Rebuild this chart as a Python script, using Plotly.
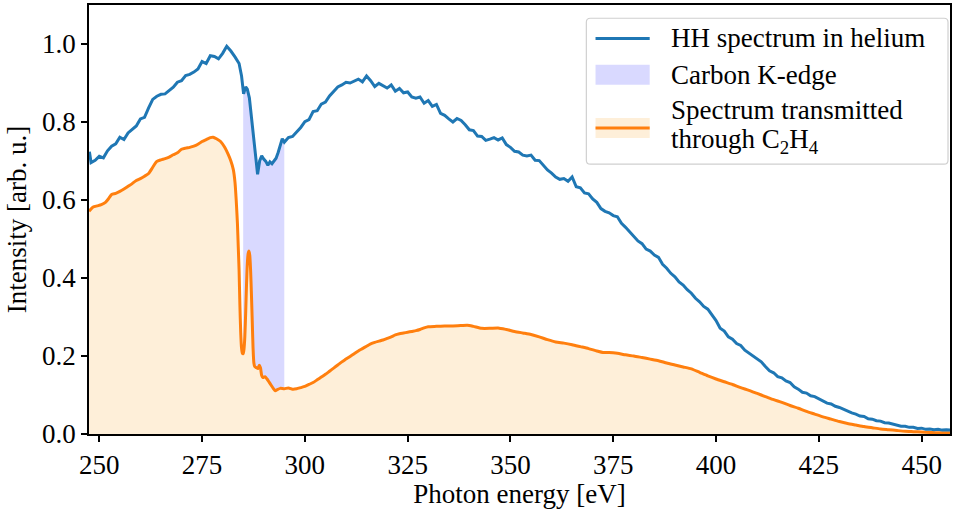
import numpy as np
import plotly.graph_objects as go

# HH spectrum recorded in helium (photon energy in eV, normalised intensity)
energy_he = [
    247.6, 248, 249, 250, 251, 252, 253, 254, 255, 256, 257, 258, 259, 260, 261, 262,
    263, 264, 265, 266, 267, 268, 269, 270, 271, 272, 273, 274, 275, 276, 277, 278,
    279, 280, 281, 282, 283, 284, 284.6, 285.1, 285.6, 286.0, 286.5, 287.0, 287.5,
    288.0, 288.5, 289.0, 289.5, 290.0, 290.5, 291.0, 291.5, 292.0, 292.5, 293.0,
    293.5, 294.0, 294.5, 295, 296, 297, 298, 299, 300, 301, 302, 303, 304, 305, 306,
    307, 308, 309, 310, 311, 312, 313, 314, 315, 316, 317, 318, 319, 320, 321, 322,
    323, 324, 325, 326, 327, 328, 329, 330, 331, 332, 333, 334, 335, 336, 337, 338,
    339, 340, 341, 342, 343, 344, 345, 346, 347, 348, 349, 350, 351, 352, 353, 354,
    355, 356, 357, 358, 359, 360, 361, 362, 363, 364, 365, 366, 367, 368, 369, 370,
    371, 372, 373, 374, 375, 376, 377, 378, 379, 380, 381, 382, 383, 384, 385, 386,
    387, 388, 389, 390, 391, 392, 393, 394, 395, 396, 397, 398, 399, 400, 401, 402,
    403, 404, 405, 406, 407, 408, 409, 410, 411, 412, 413, 414, 415, 416, 417, 418,
    419, 420, 421, 422, 423, 424, 425, 426, 427, 428, 429, 430, 431, 432, 433, 434,
    435, 436, 437, 438, 439, 440, 441, 442, 443, 444, 445, 446, 447, 448, 449, 450,
    451, 452, 453, 454, 455, 456, 457,
]
intensity_he = [
    0.724, 0.696, 0.702, 0.712, 0.708, 0.726, 0.738, 0.744, 0.761, 0.755, 0.772, 0.781, 0.790, 0.808, 0.812, 0.836,
    0.858, 0.866, 0.871, 0.872, 0.880, 0.889, 0.902, 0.906, 0.919, 0.922, 0.928, 0.936, 0.955, 0.950, 0.970, 0.968,
    0.962, 0.976, 0.994, 0.982, 0.967, 0.950, 0.918, 0.872, 0.890, 0.884, 0.862, 0.815, 0.772,
    0.712, 0.666, 0.700, 0.713, 0.705, 0.699, 0.689, 0.698, 0.693, 0.699, 0.707,
    0.722, 0.737, 0.757, 0.748, 0.760, 0.763, 0.774, 0.786, 0.801, 0.806, 0.827, 0.829, 0.846, 0.851, 0.867,
    0.878, 0.890, 0.895, 0.902, 0.900, 0.906, 0.910, 0.903, 0.918, 0.906, 0.891, 0.899, 0.894, 0.887, 0.895, 0.879,
    0.886, 0.875, 0.877, 0.864, 0.861, 0.864, 0.848, 0.855, 0.840, 0.845, 0.822, 0.817, 0.808, 0.800, 0.809, 0.804,
    0.793, 0.780, 0.778, 0.764, 0.763, 0.753, 0.756, 0.760, 0.754, 0.759, 0.742, 0.735, 0.725, 0.723, 0.715, 0.713,
    0.715, 0.702, 0.701, 0.690, 0.677, 0.669, 0.659, 0.653, 0.655, 0.648, 0.659, 0.634, 0.631, 0.618, 0.616, 0.603,
    0.594, 0.578, 0.571, 0.567, 0.560, 0.557, 0.540, 0.530, 0.518, 0.507, 0.495, 0.488, 0.474, 0.469, 0.459, 0.453,
    0.435, 0.425, 0.412, 0.403, 0.390, 0.382, 0.370, 0.361, 0.348, 0.339, 0.327, 0.320, 0.305, 0.291, 0.271, 0.264,
    0.249, 0.243, 0.232, 0.227, 0.215, 0.208, 0.199, 0.193, 0.185, 0.173, 0.162, 0.157, 0.147, 0.144, 0.136, 0.132,
    0.121, 0.115, 0.107, 0.105, 0.098, 0.096, 0.091, 0.086, 0.079, 0.077, 0.071, 0.068, 0.063, 0.060, 0.054, 0.051,
    0.046, 0.045, 0.039, 0.038, 0.034, 0.033, 0.029, 0.028, 0.025, 0.024, 0.020, 0.020, 0.017, 0.017, 0.014, 0.015,
    0.012, 0.013, 0.011, 0.012, 0.010, 0.011, 0.010,
]

# Spectrum transmitted through the C2H4 cell
energy_c2h4 = [
    247.5, 248.5, 249.5, 250.5, 251.5, 252.3, 253.0, 254.0, 255.0, 256.0, 257.0, 258.0, 259.0, 260.0,
    261.0, 262.0, 263.0, 264.0, 265.0, 266.0, 267.0, 268.0, 269.0, 270.0, 271.0, 272.0, 273.0, 274.0,
    275.0, 276.0, 277.0, 277.7, 278.5, 279.5, 280.5, 281.3, 282.0, 282.6, 283.0, 283.3, 283.6, 283.8,
    284.0, 284.2, 284.4, 284.6, 284.8, 285.0, 285.2, 285.4, 285.6, 285.8, 286.0, 286.2, 286.4, 286.6,
    286.8, 287.0, 287.2, 287.4, 287.6, 287.8, 288.2, 288.6, 288.9, 289.2, 289.5, 289.8, 290.3, 290.8,
    291.3, 291.8, 292.3, 292.8, 293.3, 294.0, 295.0, 296.0, 297.0, 298.0, 299.0, 300.0, 301.0, 302.0,
    303.0, 304.0, 305.0, 306.0, 307.0, 308.0, 309.0, 310.0, 311.0, 312.0, 313.0, 314.0, 315.0, 316.0,
    317.0, 318.0, 319.0, 320.0, 321.0, 322.0, 323.0, 324.0, 325.0, 326.0, 327.0, 328.0, 329.0, 330.0,
    332.0, 334.0, 336.0, 338.0, 339.5, 341.0, 343.0, 345.0, 347.0, 349.0, 351.0, 353.0, 355.0, 357.0,
    359.0, 361.0, 363.0, 365.0, 367.0, 369.0, 371.0, 372.5, 374.0, 376.0, 378.0, 380.0, 382.0, 384.0,
    386.0, 388.0, 390.0, 392.0, 394.0, 396.0, 398.0, 400.0, 402.0, 404.0, 406.0, 408.0, 410.0, 412.0,
    414.0, 416.0, 418.0, 420.0, 422.0, 424.0, 426.0, 428.0, 430.0, 432.0, 434.0, 436.0, 438.0, 440.0,
    442.0, 444.0, 446.0, 448.0, 450.0, 452.0, 454.0, 457.0,
]
intensity_c2h4 = [
    0.571, 0.582, 0.585, 0.588, 0.594, 0.604, 0.614, 0.617, 0.622, 0.628, 0.635, 0.642, 0.650, 0.655,
    0.661, 0.668, 0.684, 0.699, 0.703, 0.706, 0.710, 0.716, 0.721, 0.730, 0.733, 0.735, 0.738, 0.743,
    0.750, 0.755, 0.760, 0.761, 0.757, 0.750, 0.735, 0.718, 0.700, 0.678, 0.646, 0.600, 0.540, 0.480,
    0.420, 0.330, 0.260, 0.220, 0.207, 0.206, 0.218, 0.250, 0.310, 0.380, 0.435, 0.462, 0.469, 0.458,
    0.420, 0.360, 0.290, 0.220, 0.182, 0.173, 0.170, 0.168, 0.176, 0.170, 0.150, 0.145, 0.147, 0.141,
    0.133, 0.125, 0.117, 0.111, 0.114, 0.117, 0.116, 0.118, 0.115, 0.116, 0.119, 0.122, 0.127, 0.132,
    0.139, 0.146, 0.153, 0.161, 0.169, 0.177, 0.185, 0.192, 0.199, 0.206, 0.213, 0.219, 0.225, 0.231,
    0.235, 0.238, 0.241, 0.245, 0.249, 0.254, 0.257, 0.259, 0.261, 0.263, 0.265, 0.268, 0.272, 0.275,
    0.276, 0.277, 0.277, 0.278, 0.279, 0.276, 0.271, 0.271, 0.272, 0.268, 0.263, 0.259, 0.255, 0.249,
    0.242, 0.236, 0.233, 0.229, 0.224, 0.219, 0.213, 0.209, 0.209, 0.207, 0.203, 0.200, 0.196, 0.192,
    0.188, 0.182, 0.177, 0.172, 0.167, 0.158, 0.149, 0.141, 0.134, 0.127, 0.119, 0.112, 0.104, 0.096,
    0.088, 0.081, 0.073, 0.066, 0.058, 0.051, 0.044, 0.038, 0.032, 0.027, 0.023, 0.019, 0.016, 0.013,
    0.011, 0.009, 0.007, 0.006, 0.005, 0.004, 0.003, 0.003,
]

# Energy window of the carbon K-edge absorption
kedge_window = [285.0, 295.0]

# Legend entries, top to bottom
legend_labels = [
    "HH spectrum in helium",
    "Carbon K-edge",
    "Spectrum transmitted",
    "through C<sub>2</sub>H<sub>4</sub>",
]

x_ticks = [250, 275, 300, 325, 350, 375, 400, 425, 450]
y_ticks = [0.0, 0.2, 0.4, 0.6, 0.8, 1.0]
x_range = [247.5, 456.9]
y_range = [0.0, 1.1]

FONT = "Liberation Serif, DejaVu Serif, serif"
FS = 27
BLUE = "#1f77b4"
ORANGE = "#ff7f0e"
LAVENDER = "rgba(0,0,255,0.15)"
CREAM = "rgb(254,239,217)"

# figure geometry in pixels
W, H = 954, 509
ML, MR, MT, MB = 89, 2, 5, 74
PW, PH = W - ML - MR, H - MT - MB


def px(x):
    return (x - ML) / PW


def py(y):
    return (MT + PH - y) / PH


e_he = np.asarray(energy_he)
i_he = np.asarray(intensity_he)
e_tr = np.asarray(energy_c2h4)
i_tr = np.asarray(intensity_c2h4)


def window(e, i, lo, hi):
    """Samples inside [lo, hi], with the curve interpolated at both edges."""
    m = (e > lo) & (e < hi)
    ex = np.concatenate([[lo], e[m], [hi]])
    ix = np.concatenate([[np.interp(lo, e, i)], i[m], [np.interp(hi, e, i)]])
    return ex, ix


lo, hi = kedge_window
edge_lo_e, edge_lo_i = window(e_tr, i_tr, lo, hi)
edge_hi_e, edge_hi_i = window(e_he, i_he, lo, hi)

fig = go.Figure()

# lower boundary of the K-edge band (transmitted spectrum)
fig.add_trace(go.Scatter(
    x=edge_lo_e, y=edge_lo_i, mode="lines", line=dict(width=0),
    showlegend=False, hoverinfo="skip",
))
# upper boundary (helium spectrum), filled down to the transmitted one
fig.add_trace(go.Scatter(
    x=edge_hi_e, y=edge_hi_i, mode="lines", line=dict(width=0),
    fill="tonexty", fillcolor=LAVENDER, showlegend=False, hoverinfo="skip",
))
# transmitted spectrum with area fill
fig.add_trace(go.Scatter(
    x=e_tr, y=i_tr, mode="lines",
    line=dict(color=ORANGE, width=3, shape="spline", smoothing=0.6),
    fill="tozeroy", fillcolor=CREAM, showlegend=False,
))
# helium reference spectrum
fig.add_trace(go.Scatter(
    x=e_he, y=i_he, mode="lines", line=dict(color=BLUE, width=3),
    showlegend=False,
))

# ---- legend box drawn in paper coordinates ----
bx0, bx1, by0, by1 = 587.5, 950.0, 18.3, 164.5
r = 4.0
rx, ry = r / PW, r / PH
X0, X1, Y0, Y1 = px(bx0), px(bx1), py(by1), py(by0)
box_path = (
    f"M{X0 + rx},{Y1} L{X1 - rx},{Y1} Q{X1},{Y1} {X1},{Y1 - ry} "
    f"L{X1},{Y0 + ry} Q{X1},{Y0} {X1 - rx},{Y0} "
    f"L{X0 + rx},{Y0} Q{X0},{Y0} {X0},{Y0 + ry} "
    f"L{X0},{Y1 - ry} Q{X0},{Y1} {X0 + rx},{Y1} Z"
)
shapes = [
    dict(type="path", xref="paper", yref="paper", path=box_path,
         fillcolor="rgba(255,255,255,0.8)", line=dict(color="#d0d0d0", width=1.2)),
    # helium line sample
    dict(type="line", xref="paper", yref="paper",
         x0=px(596.7), x1=px(651), y0=py(38.5), y1=py(38.5),
         line=dict(color=BLUE, width=3)),
    # K-edge patch
    dict(type="rect", xref="paper", yref="paper",
         x0=px(596.7), x1=px(651), y0=py(85), y1=py(65),
         fillcolor=LAVENDER, line=dict(width=0)),
    # transmitted patch + line
    dict(type="rect", xref="paper", yref="paper",
         x0=px(596.7), x1=px(651), y0=py(138.3), y1=py(118.3),
         fillcolor=CREAM, line=dict(width=0)),
    dict(type="line", xref="paper", yref="paper",
         x0=px(596.7), x1=px(651), y0=py(128.3), y1=py(128.3),
         line=dict(color=ORANGE, width=3)),
]
label_y = [38.5, 75.0, 110.0, 141.0]
annotations = [
    dict(text=t, xref="paper", yref="paper", x=px(670.5), y=py(yy),
         xanchor="left", yanchor="middle", showarrow=False,
         font=dict(family=FONT, size=FS, color="black"))
    for t, yy in zip(legend_labels, label_y)
]

axis_common = dict(
    showline=True, linecolor="black", linewidth=1.5, mirror=True,
    ticks="outside", ticklen=6, tickwidth=1.5, tickcolor="black",
    showgrid=False, zeroline=False,
    tickfont=dict(family=FONT, size=FS, color="black"),
)

fig.update_layout(
    width=W, height=H,
    margin=dict(l=ML, r=MR, t=MT, b=MB),
    paper_bgcolor="white", plot_bgcolor="white",
    font=dict(family=FONT, size=FS, color="black"),
    showlegend=False,
    shapes=shapes,
    annotations=annotations,
    xaxis=dict(
        range=x_range, tickvals=x_ticks, ticktext=[str(v) for v in x_ticks],
        title=dict(text="Photon energy [eV]", font=dict(family=FONT, size=FS), standoff=8),
        **axis_common,
    ),
    yaxis=dict(
        range=y_range, tickvals=y_ticks, ticktext=[f"{v:.1f}" for v in y_ticks],
        title=dict(text="Intensity [arb. u.]", font=dict(family=FONT, size=FS), standoff=8),
        **axis_common,
    ),
)

fig.write_html("out.html")
